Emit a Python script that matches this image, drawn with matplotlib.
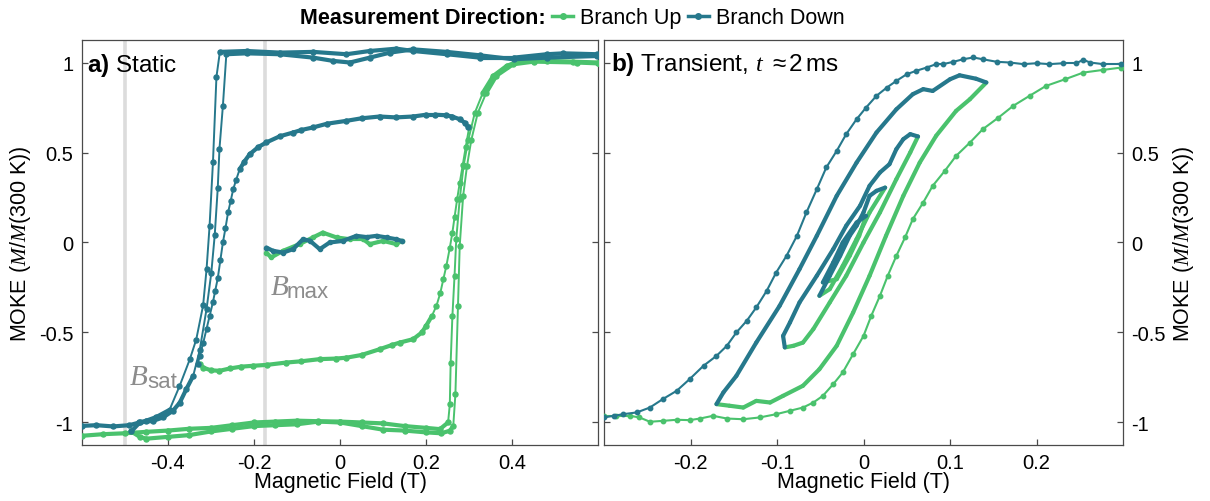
import matplotlib
matplotlib.use("Agg")
import matplotlib.pyplot as plt
from matplotlib.lines import Line2D
from matplotlib.collections import LineCollection

plt.rcParams['font.family'] = ['Liberation Sans', 'DejaVu Sans']
plt.rcParams['mathtext.fontset'] = 'custom'
plt.rcParams['mathtext.it'] = 'Liberation Serif:italic'
plt.rcParams['mathtext.rm'] = 'Liberation Sans'
plt.rcParams['mathtext.sf'] = 'Liberation Sans'
plt.rcParams['mathtext.bf'] = 'Liberation Sans:bold'

TEAL = '#26788c'
GREEN = '#4ac26d'
SPINE = '#4a4a4a'

# ---------------- data: panel a (static) ----------------
a_down1_x = [0.597, 0.519, 0.48, 0.403, 0.325, 0.248, 0.17, 0.131, 0.069, 0.015, -0.062,
             -0.14, -0.217, -0.279, -0.287, -0.295, -0.303, -0.31, -0.318, -0.334, -0.349,
             -0.373, -0.396, -0.427, -0.45, -0.466, -0.489, -0.527, -0.566, -0.60]
a_down1_y = [1.046, 1.051, 1.046, 1.027, 1.027, 1.046, 1.064, 1.077, 1.064, 1.046, 1.059,
             1.055, 1.064, 1.059, 0.92, 0.45, 0.09, -0.15, -0.35, -0.54, -0.65,
             -0.80, -0.93, -0.97, -0.99, -1.00, -1.015, -1.022, -1.015, -1.019]

a_down2_x = [0.597, 0.48, 0.403, 0.325, 0.248, 0.17, 0.116, 0.069, 0.023, -0.016, -0.062,
             -0.14, -0.217, -0.264, -0.272, -0.28, -0.284, -0.291, -0.299, -0.31, -0.326,
             -0.341, -0.357, -0.372, -0.388, -0.411, -0.434, -0.465, -0.485]
a_down2_y = [1.036, 1.027, 1.018, 1.04, 1.059, 1.073, 1.055, 1.027, 1.0, 1.009, 1.027,
             1.046, 1.051, 1.046, 0.76, 0.52, 0.30, 0.04, -0.17, -0.37, -0.60,
             -0.741, -0.815, -0.889, -0.935, -0.972, -0.991, -1.0, -1.05]

a_down3_x = [0.298, 0.29, 0.278, 0.26, 0.247, 0.22, 0.2, 0.17, 0.13, 0.092, 0.05, 0.015,
             -0.03, -0.063, -0.09, -0.109, -0.14, -0.171, -0.19, -0.21, -0.222, -0.233,
             -0.241, -0.248, -0.254, -0.26, -0.266, -0.272, -0.278, -0.284, -0.29, -0.295,
             -0.303, -0.31, -0.318, -0.326, -0.33]
a_down3_y = [0.639, 0.665, 0.685, 0.70, 0.707, 0.71, 0.71, 0.70, 0.695, 0.70, 0.69, 0.676,
             0.66, 0.639, 0.625, 0.611, 0.59, 0.556, 0.53, 0.49, 0.45, 0.407,
             0.35, 0.296, 0.23, 0.167, 0.08, 0.0, -0.1, -0.2, -0.27, -0.33,
             -0.41, -0.48, -0.56, -0.63, -0.675]

a_down4_x = [0.143, 0.131, 0.108, 0.085, 0.062, 0.038, 0.007, -0.024, -0.047, -0.07,
             -0.086, -0.109, -0.132, -0.156, -0.171]
a_down4_y = [0.009, 0.018, 0.028, 0.037, 0.03, 0.037, 0.009, 0.0, -0.037, 0.01,
             0.018, -0.037, -0.056, -0.046, -0.028]

a_up1_x = [-0.60, -0.55, -0.50, -0.45, -0.40, -0.35, -0.30, -0.25, -0.20, -0.15, -0.10,
           -0.05, 0.0, 0.05, 0.10, 0.15, 0.20, 0.232, 0.251, 0.255, 0.257, 0.261, 0.266,
           0.27, 0.278, 0.287, 0.298, 0.313, 0.332, 0.356, 0.387, 0.418, 0.48, 0.54, 0.60]
a_up1_y = [-1.074, -1.065, -1.06, -1.052, -1.045, -1.035, -1.03, -1.015, -1.0, -0.995, -0.99,
           -0.993, -0.995, -1.0, -1.005, -1.02, -1.03, -1.037, -1.0, -0.9, -0.667, -0.41, -0.185,
           0.02, 0.24, 0.426, 0.57, 0.72, 0.833, 0.926, 0.981, 1.01, 1.009, 1.005, 1.0]

a_up2_x = [-0.485, -0.465, -0.45, -0.40, -0.35, -0.30, -0.25, -0.20, -0.15, -0.10, -0.05,
           0.0, 0.05, 0.10, 0.15, 0.20, 0.235, 0.255, 0.263, 0.268, 0.274, 0.278, 0.286,
           0.295, 0.305, 0.32, 0.34, 0.363, 0.402, 0.45, 0.55, 0.60]
a_up2_y = [-1.05, -1.08, -1.09, -1.08, -1.07, -1.05, -1.035, -1.02, -1.015, -1.01, -0.995,
           -1.0, -1.02, -1.04, -1.045, -1.055, -1.06, -1.046, -1.02, -0.843, -0.352, -0.02, 0.26,
           0.426, 0.57, 0.72, 0.833, 0.926, 0.99, 1.005, 1.0, 0.995]

a_up3_x = [-0.326, -0.318, -0.30, -0.28, -0.256, -0.23, -0.202, -0.17, -0.125, -0.09, -0.047,
           -0.01, 0.015, 0.05, 0.092, 0.12, 0.139, 0.17, 0.19, 0.2, 0.213, 0.224, 0.233, 0.24,
           0.247, 0.255, 0.261, 0.266, 0.272, 0.278, 0.285, 0.292, 0.30]
a_up3_y = [-0.676, -0.695, -0.71, -0.713, -0.70, -0.69, -0.685, -0.68, -0.667, -0.66, -0.648,
           -0.645, -0.64, -0.625, -0.593, -0.57, -0.556, -0.537, -0.5, -0.463, -0.41, -0.352,
           -0.28, -0.204, -0.13, -0.03, 0.055, 0.14, 0.24, 0.33, 0.43, 0.53, 0.64]

a_up4_x = [-0.171, -0.16, -0.132, -0.094, -0.063, -0.04, -0.008, 0.023, 0.054, 0.069,
           0.1, 0.131, 0.143]
a_up4_y = [-0.056, -0.083, -0.046, -0.009, 0.028, 0.055, 0.028, 0.018, 0.018, -0.009,
           0.009, -0.009, 0.009]

B_sat = -0.50
B_max = -0.175

# ---------------- data: panel b (transient) ----------------
b_down1_x = [0.298, 0.277, 0.262, 0.254, 0.246, 0.231, 0.215, 0.200, 0.185, 0.169, 0.154,
             0.138, 0.127, 0.115, 0.104, 0.092, 0.084, 0.073, 0.061, 0.050, 0.038, 0.027,
             0.015, 0.003, -0.008, -0.020, -0.031, -0.043, -0.054, -0.066, -0.077, -0.089,
             -0.101, -0.112, -0.124, -0.135, -0.147, -0.158, -0.170, -0.185, -0.201, -0.216,
             -0.232, -0.247, -0.262, -0.278, -0.289, -0.30]
b_down1_y = [0.991, 0.991, 1.0, 1.015, 0.996, 0.996, 0.991, 0.996, 0.991, 1.0, 1.004,
             1.018, 1.028, 1.018, 1.004, 0.991, 0.991, 0.972, 0.954, 0.935, 0.898, 0.861,
             0.815, 0.750, 0.685, 0.602, 0.509, 0.417, 0.296, 0.167, 0.037, -0.074,
             -0.167, -0.269, -0.361, -0.435, -0.500, -0.574, -0.630, -0.685, -0.759, -0.824,
             -0.870, -0.917, -0.944, -0.954, -0.963, -0.972]
b_up1_x = [-0.30, -0.286, -0.270, -0.259, -0.247, -0.232, -0.216, -0.201, -0.189, -0.174,
           -0.158, -0.139, -0.120, -0.101, -0.085, -0.070, -0.058, -0.047, -0.035, -0.024,
           -0.012, 0.000, 0.009, 0.019, 0.028, 0.038, 0.048, 0.057, 0.069, 0.080, 0.094,
           0.107, 0.123, 0.138, 0.156, 0.173, 0.192, 0.211, 0.233, 0.254, 0.277, 0.298]
b_up1_y = [-0.963, -0.963, -0.963, -0.972, -0.996, -0.991, -0.985, -0.987, -0.978, -0.963,
           -0.978, -0.982, -0.972, -0.954, -0.935, -0.917, -0.889, -0.852, -0.787, -0.722,
           -0.620, -0.519, -0.407, -0.296, -0.185, -0.074, 0.028, 0.130, 0.222, 0.315, 0.398,
           0.481, 0.555, 0.630, 0.694, 0.759, 0.815, 0.870, 0.907, 0.944, 0.959, 0.972]

b_down2_x = [0.142, 0.13, 0.111, 0.1, 0.08, 0.069, 0.057, 0.038, 0.015, -0.008, -0.031,
             -0.054, -0.074, -0.097, -0.124, -0.147, -0.162, -0.17]
b_down2_y = [0.889, 0.91, 0.929, 0.907, 0.842, 0.852, 0.824, 0.74, 0.611, 0.444, 0.259,
             0.037, -0.148, -0.352, -0.556, -0.741, -0.833, -0.898]
b_up2_x = [-0.17, -0.155, -0.139, -0.124, -0.108, -0.093, -0.07, -0.051, -0.031, -0.012,
           0.007, 0.026, 0.046, 0.065, 0.084, 0.107, 0.123, 0.142]
b_up2_y = [-0.898, -0.907, -0.917, -0.88, -0.889, -0.852, -0.796, -0.704, -0.574, -0.389,
           -0.185, 0.037, 0.259, 0.444, 0.593, 0.731, 0.796, 0.889]

b_down3_x = [0.063, 0.054, 0.046, 0.038, 0.03, 0.019, 0.007, -0.004, -0.02, -0.035, -0.054,
             -0.074, -0.085, -0.093, -0.091]
b_down3_y = [0.589, 0.602, 0.574, 0.519, 0.435, 0.389, 0.315, 0.204, 0.093, -0.037, -0.185,
             -0.333, -0.444, -0.519, -0.583]
b_up3_x = [-0.091, -0.081, -0.07, -0.058, -0.039, -0.02, 0.0, 0.019, 0.038, 0.054, 0.063]
b_up3_y = [-0.583, -0.574, -0.556, -0.481, -0.333, -0.185, 0.0, 0.167, 0.352, 0.5, 0.589]

b_down4_x = [0.025, 0.015, 0.007, 0.0, -0.008, -0.016, -0.027, -0.039, -0.051]
b_down4_y = [0.305, 0.287, 0.259, 0.167, 0.093, 0.037, -0.074, -0.185, -0.296]
b_up4_x = [-0.051, -0.039, -0.024, -0.008, 0.007, 0.025]
b_up4_y = [-0.296, -0.259, -0.13, 0.019, 0.167, 0.305]

b_down5_x = [0.003, -0.008, -0.024, -0.035, -0.047]
b_down5_y = [0.148, 0.111, 0.0, -0.111, -0.222]
b_up5_x = [-0.047, -0.031, -0.016, -0.005, 0.003]
b_up5_y = [-0.222, -0.204, -0.074, 0.037, 0.148]

yticks = [-1, -0.5, 0, 0.5, 1]
yticklabels = ['-1', '-0.5', '0', '0.5', '1']
a_xticks = [-0.4, -0.2, 0, 0.2, 0.4]
a_xticklabels = ['-0.4', '-0.2', '0', '0.2', '0.4']
b_xticks = [-0.2, -0.1, 0, 0.1, 0.2]
b_xticklabels = ['-0.2', '-0.1', '0', '0.1', '0.2']

# ---------------- figure ----------------
fig = plt.figure(figsize=(12.1, 5.02), dpi=100)
axa = fig.add_axes([0.0675, 0.1116, 0.4270, 0.8067])
axb = fig.add_axes([0.4992, 0.1116, 0.4289, 0.8067])

def style(ax, xlim, xt, xtl, right_labels):
    ax.set_xlim(*xlim)
    ax.set_ylim(-1.125, 1.125)
    ax.set_xticks(xt)
    ax.set_xticklabels(xtl)
    ax.set_yticks(yticks)
    ax.set_yticklabels(yticklabels)
    for s in ax.spines.values():
        s.set_color(SPINE)
        s.set_linewidth(0.9)
    ax.tick_params(axis='both', direction='in', length=4, width=0.9, color=SPINE,
                   labelsize=14.5, pad=6)
    ax.tick_params(axis='y', left=True, right=True,
                   labelleft=not right_labels, labelright=right_labels)
    ax.tick_params(axis='x', top=False, bottom=True)
    ax.set_xlabel('Magnetic Field (T)', fontsize=15.5, labelpad=-1)
    ax.set_ylabel(r'MOKE ($M/M$(300 K))', fontsize=15.5, labelpad=4)
    if right_labels:
        ax.yaxis.set_label_position('right')

style(axa, (-0.6, 0.6), a_xticks, a_xticklabels, False)
style(axb, (-0.3, 0.3), b_xticks, b_xticklabels, True)


def branch(ax, xs, ys, color, thin=1.4, thick=3.0, ms=3.6, z=3, marker=True):
    """Draw one branch: dense (flat) stretches as a thick band, steep stretches thin."""
    x0, x1 = ax.get_xlim()
    y0, y1 = ax.get_ylim()
    sx = ax.bbox.width / (x1 - x0)
    sy = ax.bbox.height / (y1 - y0)
    segs, widths = [], []
    for i in range(len(xs) - 1):
        segs.append([(xs[i], ys[i]), (xs[i + 1], ys[i + 1])])
        dxp = abs(xs[i + 1] - xs[i]) * sx
        dyp = abs(ys[i + 1] - ys[i]) * sy
        widths.append(thick if dyp < 2.2 * dxp else thin)
    lc = LineCollection(segs, colors=color, linewidths=widths, zorder=z, capstyle='round',
                        joinstyle='round')
    ax.add_collection(lc)
    if marker:
        ax.plot(xs, ys, ls='none', marker='o', ms=ms, color=color, zorder=z)


# guide lines
for xv in (B_sat, B_max):
    axa.axvline(xv, color='#dcdcdc', lw=2.6, zorder=0)

for xs, ys in [(a_up1_x, a_up1_y), (a_up2_x, a_up2_y), (a_up3_x, a_up3_y)]:
    branch(axa, xs, ys, GREEN)
branch(axa, a_up4_x, a_up4_y, GREEN, thin=3.0, ms=3.0)
for xs, ys in [(a_down1_x, a_down1_y), (a_down2_x, a_down2_y), (a_down3_x, a_down3_y)]:
    branch(axa, xs, ys, TEAL, z=4)
branch(axa, a_down4_x, a_down4_y, TEAL, thin=3.0, ms=3.0, z=4)

GRAY = '#8c8c8c'
axa.text(-0.489, -0.787, r'$B$', fontsize=21, color=GRAY, ha='left', va='baseline')
axa.text(-0.447, -0.804, 'sat', fontsize=16, color=GRAY, ha='left', va='baseline')
axa.text(-0.163, -0.287, r'$B$', fontsize=21, color=GRAY, ha='left', va='baseline')
axa.text(-0.124, -0.304, 'max', fontsize=16, color=GRAY, ha='left', va='baseline')

# panel b
branch(axb, b_up1_x, b_up1_y, GREEN, thin=1.5, thick=1.5, ms=3.2)
branch(axb, b_down1_x, b_down1_y, TEAL, thin=1.5, thick=1.5, ms=3.2, z=4)
for xs, ys in [(b_up2_x, b_up2_y), (b_up3_x, b_up3_y), (b_up4_x, b_up4_y), (b_up5_x, b_up5_y)]:
    branch(axb, xs, ys, GREEN, thin=3.0, thick=3.0, marker=False)
for xs, ys in [(b_down2_x, b_down2_y), (b_down3_x, b_down3_y), (b_down4_x, b_down4_y),
               (b_down5_x, b_down5_y)]:
    branch(axb, xs, ys, TEAL, thin=3.0, thick=3.0, marker=False, z=4)

axa.text(0.011, 0.923, r'$\mathbf{a)}$ Static', transform=axa.transAxes, fontsize=17.5,
         ha='left', va='baseline', zorder=6)
axb.text(0.013, 0.927, r'$\mathbf{b)}$ Transient, $t$ $\approx$2$\,$ms', transform=axb.transAxes,
         fontsize=17.5, ha='left', va='baseline', zorder=6)

# header
fig.text(0.451, 0.963, 'Measurement Direction:', fontsize=15.5, fontweight='bold',
         ha='right', va='center')
handles = [Line2D([], [], color=GREEN, lw=2.5, marker='o', ms=4),
           Line2D([], [], color=TEAL, lw=2.5, marker='o', ms=4)]
fig.legend(handles, ['Branch Up', 'Branch Down'], loc='center left',
           bbox_to_anchor=(0.456, 0.963), ncol=2, frameon=False, fontsize=15.5,
           handlelength=1.0, handletextpad=0.3, columnspacing=0.3, borderpad=0,
           borderaxespad=0)

fig.savefig('out.png', dpi=100)
